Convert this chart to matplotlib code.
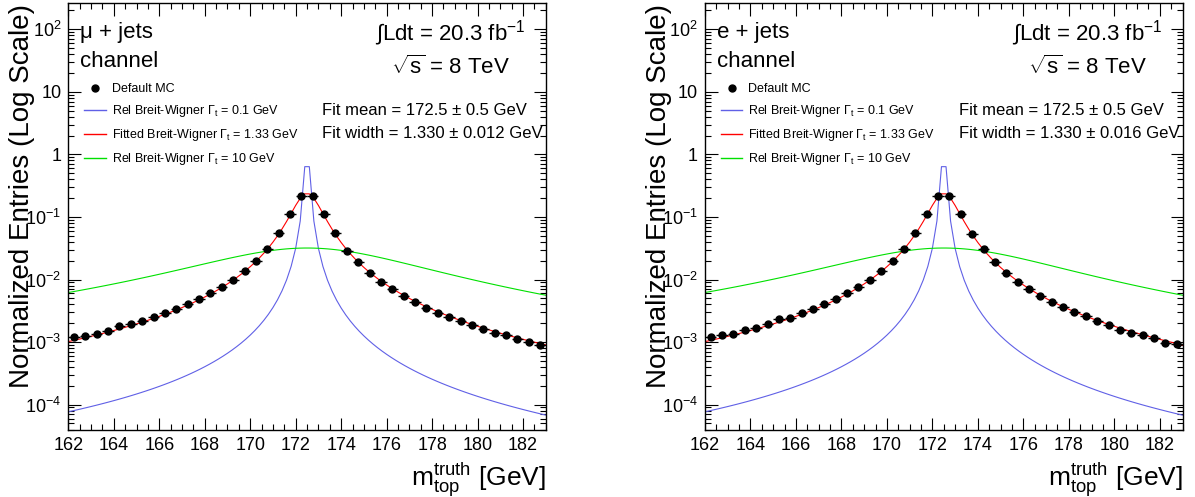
import numpy as np
import matplotlib
matplotlib.use("Agg")
import matplotlib.pyplot as plt
from matplotlib.ticker import FixedLocator, MultipleLocator, NullFormatter
from matplotlib.lines import Line2D

plt.rcParams['font.family'] = ['Liberation Sans', 'DejaVu Sans']
plt.rcParams['mathtext.fontset'] = 'custom'
plt.rcParams['mathtext.rm'] = 'Liberation Sans'
plt.rcParams['mathtext.it'] = 'Liberation Sans:italic'
plt.rcParams['mathtext.bf'] = 'Liberation Sans:bold'

# bin centres (0.5 GeV bins)
mass_bins = np.arange(162.25, 183.0, 0.5)

# normalized entries, mu+jets
mu_entries = [1.19e-3, 1.26e-3, 1.36e-3, 1.52e-3, 1.78e-3, 1.94e-3, 2.19e-3, 2.51e-3,
              2.91e-3, 3.37e-3, 4.06e-3, 4.82e-3, 6.01e-3, 7.50e-3, 9.93e-3, 1.35e-2,
              2.00e-2, 3.08e-2, 5.61e-2, 0.110, 0.214, 0.214, 0.110, 5.48e-2,
              2.89e-2, 1.88e-2, 1.285e-2, 9.22e-3, 6.97e-3, 5.50e-3, 4.32e-3, 3.46e-3,
              2.94e-3, 2.48e-3, 2.14e-3, 1.87e-3, 1.61e-3, 1.41e-3, 1.28e-3, 1.13e-3,
              1.00e-3, 8.95e-4]
# e+jets
el_entries = [1.19e-3, 1.28e-3, 1.36e-3, 1.54e-3, 1.69e-3, 1.94e-3, 2.31e-3, 2.42e-3,
              2.91e-3, 3.41e-3, 4.10e-3, 4.88e-3, 6.01e-3, 7.67e-3, 9.82e-3, 1.37e-2,
              2.00e-2, 3.11e-2, 5.61e-2, 0.112, 0.214, 0.214, 0.110, 5.40e-2,
              3.04e-2, 1.88e-2, 1.285e-2, 9.20e-3, 6.97e-3, 5.50e-3, 4.32e-3, 3.63e-3,
              2.99e-3, 2.61e-3, 2.14e-3, 1.87e-3, 1.56e-3, 1.39e-3, 1.28e-3, 1.16e-3,
              9.8e-4, 9.4e-4]

bin_width = 0.5
top_mass = 172.5
widths = [0.1, 1.33, 10.0]
curve_colors = ['#6060e6', '#ff0000', '#00e000']
curve_labels = [r'Rel Breit-Wigner $\Gamma_{\rm t}$ = 0.1 GeV',
                r'Fitted Breit-Wigner $\Gamma_{\rm t}$ = 1.33 GeV',
                r'Rel Breit-Wigner $\Gamma_{\rm t}$ = 10 GeV']

channels = [u'\u03bc + jets', 'e + jets']
fit_width_txt = [u'1.330 \u00b1 0.012', u'1.330 \u00b1 0.016']
yticks = [1e-4, 1e-3, 1e-2, 1e-1, 1, 10, 100]
ytick_labels = [r'$10^{-4}$', r'$10^{-3}$', r'$10^{-2}$', r'$10^{-1}$', '1', '10', r'$10^{2}$']


def rel_bw(m, mass, width):
    g = mass * np.sqrt(mass**2 + width**2)
    k = 2 * np.sqrt(2) * mass * width * g / (np.pi * np.sqrt(mass**2 + g))
    return k / ((m**2 - mass**2)**2 + mass**2 * width**2)


W, H = 1195, 497
fig = plt.figure(figsize=(W / 100, H / 100), dpi=100)
m_grid = np.linspace(162, 183, 106)

for i, (entries, chan) in enumerate(zip([mu_entries, el_entries], channels)):
    x0 = [68.3, 705.0][i]
    ax = fig.add_axes([x0 / W, 1 - 430 / H, 477.5 / W, 427.3 / H])
    for wd, c in zip(widths, curve_colors):
        ax.plot(m_grid, rel_bw(m_grid, top_mass, wd) * bin_width, color=c, lw=0.8, zorder=2)
    ax.errorbar(mass_bins, entries, xerr=bin_width / 2, fmt='o', color='black',
                ms=5, elinewidth=1.0, capsize=0, zorder=3)

    ax.set_yscale('log')
    ax.set_xlim(162, 183)
    ax.set_ylim(3.93e-5, 266)
    ax.yaxis.set_major_locator(FixedLocator(yticks))
    ax.set_yticklabels(ytick_labels)
    ax.yaxis.set_minor_locator(FixedLocator([k * 10.0**e for e in range(-5, 3) for k in range(2, 10)]))
    ax.yaxis.set_minor_formatter(NullFormatter())
    ax.xaxis.set_major_locator(MultipleLocator(2))
    ax.xaxis.set_minor_locator(MultipleLocator(0.5))
    ax.tick_params(which='both', direction='in', top=True, right=True, labelsize=13, width=0.8)
    ax.tick_params(which='major', length=9, pad=5)
    ax.tick_params(which='minor', length=4.5)
    for s in ax.spines.values():
        s.set_linewidth(1.0)

    # legend
    handles = [Line2D([], [], marker='o', ls='none', color='black', ms=5)]
    handles += [Line2D([], [], color=c, lw=1.0) for c in curve_colors]
    ax.legend(handles, ['Default MC'] + curve_labels, loc='upper left',
              bbox_to_anchor=((x0 + 16) / W, 1 - 83 / H), bbox_transform=fig.transFigure,
              frameon=False, fontsize=9, borderpad=0, borderaxespad=0,
              handlelength=1.7, handletextpad=0.5, labelspacing=0.65)

    fig.text((x0 + 12) / W, 1 - 38 / H, chan, fontsize=16)
    fig.text((x0 + 12) / W, 1 - 67 / H, 'channel', fontsize=16)
    fig.text((x0 + 382) / W, 1 - 40 / H, r'$\int$Ldt = 20.3 fb$^{-1}$', fontsize=16, ha='center')
    fig.text((x0 + 382) / W, 1 - 74 / H, r'$\sqrt{\rm s}$ = 8 TeV', fontsize=16, ha='center')
    fig.text((x0 + 254) / W, 1 - 115 / H, u'Fit mean = 172.5 \u00b1 0.5 GeV', fontsize=12)
    fig.text((x0 + 254) / W, 1 - 138 / H, 'Fit width = ' + fit_width_txt[i] + ' GeV', fontsize=12)

    fig.text((x0 - 46) / W, 1 - 4 / H, 'Normalized Entries (Log Scale)', rotation=90,
             fontsize=20, ha='center', va='top')
    fig.text((x0 + 477.5) / W, 1 - 486 / H, r'm$_{\rm top}^{\rm truth}$ [GeV]', fontsize=19,
             ha='right', va='baseline')

fig.savefig('out.png', dpi=100)
